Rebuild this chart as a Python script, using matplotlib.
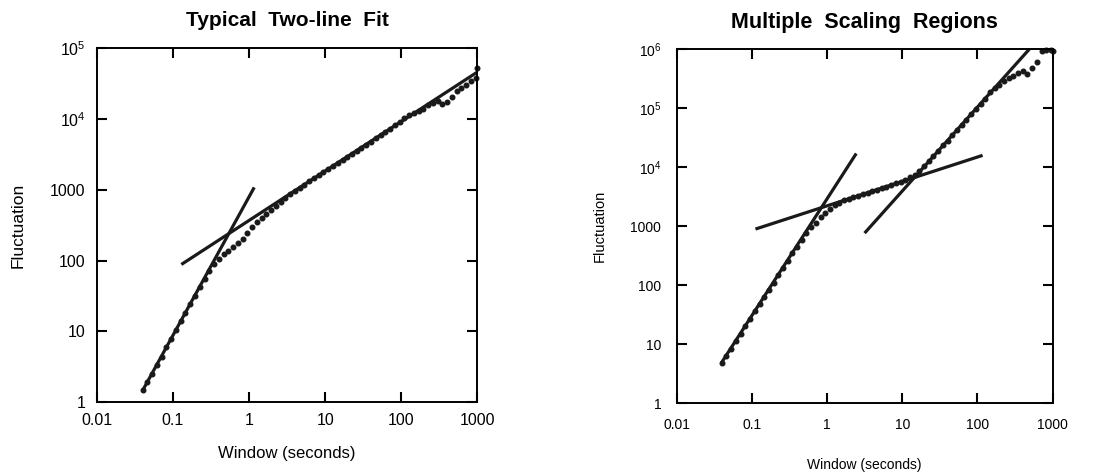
import matplotlib
matplotlib.use("Agg")
from matplotlib import pyplot as plt

plt.rcParams['font.family'] = ['Liberation Sans', 'DejaVu Sans']
plt.rcParams['mathtext.fontset'] = 'custom'
plt.rcParams['mathtext.rm'] = 'Liberation Sans'
plt.rcParams['mathtext.it'] = 'Liberation Sans'
plt.rcParams['mathtext.bf'] = 'Liberation Sans:bold'

# window sizes (seconds)
win = [0.040, 0.046, 0.053, 0.062, 0.071, 0.082, 0.095, 0.110, 0.127, 0.146,
       0.169, 0.195, 0.225, 0.260, 0.300, 0.347, 0.400, 0.462, 0.534, 0.617,
       0.712, 0.823, 0.950, 1.10, 1.27, 1.46, 1.69, 1.95, 2.25, 2.60,
       3.00, 3.47, 4.00, 4.62, 5.34, 6.17, 7.12, 8.23, 9.50, 11.0,
       12.7, 14.6, 16.9, 19.5, 22.5, 26.0, 30.0, 34.7, 40.0, 46.2,
       53.4, 61.7, 71.2, 82.3, 95.0, 110, 127, 146, 169, 195,
       225, 260, 300, 347, 400, 462, 534, 617, 712, 823,
       950, 1000]

# left panel: typical two-line fit
fluct_left = [1.5, 1.9, 2.5, 3.4, 4.4, 6.0, 7.8, 10.4, 14.0, 18.0,
              24.5, 31.5, 42.0, 55.0, 72.0, 90.0, 106, 122, 138, 155,
              175, 200, 245, 295, 345, 395, 455, 520, 590, 670,
              760, 870, 960, 1070, 1180, 1320, 1450, 1610, 1770, 1960,
              2150, 2380, 2620, 2900, 3150, 3550, 3900, 4300, 4700, 5400,
              5900, 6500, 7300, 8200, 9200, 10200, 11300, 12200, 13000, 14000,
              15500, 17000, 18200, 16500, 17500, 20500, 24500, 27500, 30500, 34000,
              38000, 52000]
fit_left_x = [[0.040, 1.17], [0.129, 1000]]
fit_left_y = [[1.46, 1080], [88, 46000]]

# right panel: multiple scaling regions
fluct_right = [4.8, 6.3, 8.4, 11.5, 15.0, 20.0, 27.0, 36.0, 47.0, 63.0,
               84.0, 110, 148, 196, 260, 345, 450, 590, 760, 950,
               1150, 1400, 1650, 1950, 2250, 2500, 2720, 2900, 3080, 3250,
               3450, 3680, 3900, 4150, 4420, 4680, 4950, 5300, 5650, 6100,
               6700, 7400, 8600, 10400, 12800, 15600, 19000, 23300, 28000, 35000,
               42500, 52000, 63500, 78000, 95000, 117000, 145000, 190000, 215000, 250000,
               285000, 320000, 350000, 390000, 420000, 380000, 470000, 600000, 920000, 950000,
               950000, 940000]
fit_right_x = [[0.0395, 2.45], [0.112, 117], [3.16, 490]]
fit_right_y = [[4.8, 17000], [890, 15800], [760, 1.0e6]]

xticks = [0.01, 0.1, 1, 10, 100, 1000]
xticklabels = ['0.01', '0.1', '1', '10', '100', '1000']


def setup(ax, yticks, ylabels, fs, pad):
    ax.set_xscale('log')
    ax.set_yscale('log')
    ax.set_xlim(0.01, 1000)
    ax.set_ylim(yticks[0], yticks[-1])
    ax.set_xticks(xticks)
    ax.set_xticklabels(xticklabels)
    ax.set_yticks(yticks)
    ax.set_yticklabels(ylabels)
    ax.minorticks_off()
    ax.tick_params(direction='in', length=7, width=1.5, top=True, right=True,
                   labelsize=fs, pad=pad)
    for s in ax.spines.values():
        s.set_linewidth(1.4)


fig = plt.figure(figsize=(11, 4.72), dpi=100)

ax1 = fig.add_axes([0.088, 0.148, 0.346, 0.75])
for fx, fy in zip(fit_left_x, fit_left_y):
    ax1.plot(fx, fy, color='#1a1a1a', lw=2.3, solid_capstyle='butt')
ax1.plot(win, fluct_left, 'o', color='#1a1a1a', ms=3.3, clip_on=False)
setup(ax1, [1, 10, 100, 1000, 1e4, 1e5],
      ['1', '10', '100', '1000', r'$10^4$', r'$10^5$'], 11.5, 8)
ax1.set_title('Typical  Two-line  Fit', fontsize=15, fontweight='bold', pad=16)
ax1.set_xlabel('Window (seconds)', fontsize=12)
ax1.set_ylabel('Fluctuation', fontsize=12.5)
ax1.xaxis.set_label_coords(0.5, -0.125)
ax1.yaxis.set_label_coords(-0.186, 0.5)

ax2 = fig.add_axes([0.615, 0.146, 0.342, 0.75])
for fx, fy in zip(fit_right_x, fit_right_y):
    ax2.plot(fx, fy, color='#1a1a1a', lw=2.3, solid_capstyle='butt')
ax2.plot(win, fluct_right, 'o', color='#1a1a1a', ms=3.3, clip_on=False)
setup(ax2, [1, 10, 100, 1000, 1e4, 1e5, 1e6],
      ['1', '10', '100', '1000', r'$10^4$', r'$10^5$', r'$10^6$'], 10, 11)
ax2.set_title('Multiple  Scaling  Regions', fontsize=15.5, fontweight='bold', pad=15)
ax2.set_xlabel('Window (seconds)', fontsize=10)
ax2.set_ylabel('Fluctuation', fontsize=10.5)
ax2.xaxis.set_label_coords(0.5, -0.155)
ax2.yaxis.set_label_coords(-0.186, 0.5)

fig.savefig('out.png', dpi=100)
